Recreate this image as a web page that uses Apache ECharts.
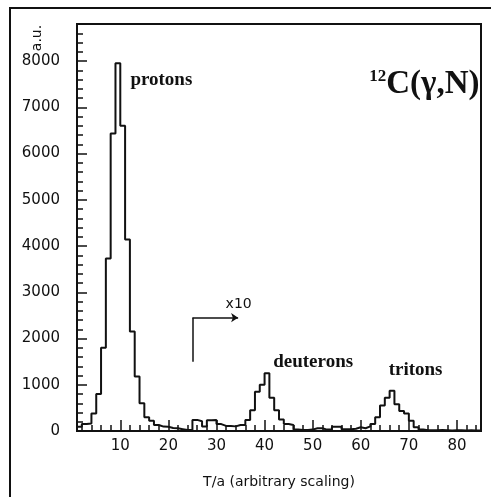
<!DOCTYPE html>
<html>
<head>
<meta charset="utf-8">
<script src="https://cdn.jsdelivr.net/npm/echarts@6/dist/echarts.min.js"></script>
<style>
  html, body { margin: 0; padding: 0; background: #fff; }
  #chart { width: 491px; height: 497px; }
</style>
</head>
<body>
<div id="chart"></div>
<script>
// histogram: bins of width 1 starting at T/a = 1 (values above 25 are shown x10)
var binStart = 1;
var counts = [
  90, 150, 160, 380, 800, 1800, 3730, 6430, 7950, 6600,      // 1-10
  4140, 2150, 1180, 600, 300, 220, 130, 95, 90, 65,          // 11-20
  60, 40, 20, 20, 240, 210, 100, 230, 240, 150,              // 21-30
  110, 110, 100, 130, 130, 240, 450, 850, 1000, 1250,        // 31-40
  720, 450, 250, 150, 130, 30, 20, 20, 30, 60,               // 41-50
  60, 30, 30, 90, 90, 40, 40, 50, 80, 60,                    // 51-60
  100, 150, 300, 550, 720, 870, 580, 430, 380, 220,          // 61-70
  80, 30, 15, 15, 15, 20, 15, 10, 15, 15,                    // 71-80
  10, 15, 10, 10                                             // 81-84
];
var xMajorTicks = [10, 20, 30, 40, 50, 60, 70, 80];
var xMinorTicks = [2, 4, 6, 8, 12, 14, 16, 18, 22, 24, 26, 28, 32, 34, 36, 38,
  42, 44, 46, 48, 52, 54, 56, 58, 62, 64, 66, 68, 72, 74, 76, 78, 82, 84];
var yLabels = [0, 1000, 2000, 3000, 4000, 5000, 6000, 7000, 8000];

// "x10" arrow
var arrowPath = [[25, 1500], [25, 2450], [34.5, 2450]];

// text annotations, in data coordinates
var notes = [
  { text: 'protons', at: [12.1, 7580], align: 'left', size: 19 },
  { text: 'deuterons', at: [41.8, 1500], align: 'left', size: 19 },
  { text: 'tritons', at: [65.8, 1310], align: 'left', size: 19 }
];

var ink = '#111';
var histData = counts.map(function (v, i) { return [binStart + i, v]; });
histData.push([binStart + counts.length, counts[counts.length - 1]]);

var chart = echarts.init(document.getElementById('chart'));

chart.setOption({
  animation: false,
  backgroundColor: '#fff',
  grid: {
    left: 77, top: 24, right: 10, bottom: 66,
    show: true, borderColor: ink, borderWidth: 2
  },
  xAxis: [{
    type: 'value', min: 1, max: 85,
    name: 'T/a (arbitrary scaling)',
    nameLocation: 'middle', nameGap: 44,
    nameTextStyle: { fontFamily: 'DejaVu Sans', fontSize: 14, color: ink },
    axisLine: { lineStyle: { color: ink, width: 2 } },
    axisTick: { inside: true, length: 11, customValues: xMajorTicks, lineStyle: { color: ink, width: 1.5 } },
    axisLabel: { customValues: xMajorTicks, margin: 8, fontFamily: 'DejaVu Sans', fontSize: 15, color: ink },
    splitLine: { show: false }
  }, {
    type: 'value', min: 1, max: 85, position: 'bottom',
    axisLine: { show: false },
    axisTick: { inside: true, length: 6, customValues: xMinorTicks, lineStyle: { color: ink, width: 1.5 } },
    axisLabel: { show: false },
    splitLine: { show: false }
  }],
  yAxis: {
    type: 'value', min: 0, max: 8800, interval: 1000,
    axisLine: { show: true, lineStyle: { color: ink, width: 2 } },
    axisTick: { inside: true, length: 10, lineStyle: { color: ink, width: 1.5 } },
    minorTick: { show: true, splitNumber: 5, length: 6, lineStyle: { color: ink, width: 1.5 } },
    axisLabel: {
      customValues: yLabels,
      formatter: function (v) { return String(v); },
      margin: 17, fontFamily: 'DejaVu Sans', fontSize: 15, color: ink
    },
    splitLine: { show: false },
    minorSplitLine: { show: false }
  },
  series: [{
    type: 'line',
    step: 'end',
    data: histData,
    showSymbol: false,
    symbol: 'none',
    lineStyle: { color: ink, width: 2 },
    silent: true,
    markLine: {
      silent: true,
      label: { show: false },
      lineStyle: { color: ink, width: 1.5, type: 'solid' },
      data: [
        [{ coord: arrowPath[0], symbol: 'none' }, { coord: arrowPath[1], symbol: 'none' }],
        [{ coord: arrowPath[1], symbol: 'none' }, { coord: arrowPath[2], symbol: 'arrow', symbolSize: 7 }]
      ]
    }
  }]
});

function px(p) { return chart.convertToPixel({ seriesIndex: 0 }, p); }

var graphics = notes.map(function (n) {
  var p = px(n.at);
  return {
    type: 'text', x: p[0], y: p[1],
    style: {
      text: n.text, fill: ink, align: n.align, verticalAlign: 'middle',
      font: 'bold ' + n.size + 'px "Liberation Serif"'
    }
  };
});

var xp = px([31.9, 2730]);
graphics.push({
  type: 'text', x: xp[0], y: xp[1],
  style: { text: 'x10', fill: ink, align: 'left', verticalAlign: 'middle', font: '14px "DejaVu Sans"' }
});

var rp = px([84.7, 7500]);
graphics.push({
  type: 'text', x: rp[0], y: rp[1],
  style: {
    text: '{s|12}{m|C(γ,N)}', fill: ink, align: 'right', verticalAlign: 'middle',
    rich: {
      s: { fontFamily: 'Liberation Serif', fontWeight: 'bold', fontSize: 17, verticalAlign: 'top', fill: ink },
      m: { fontFamily: 'Liberation Serif', fontWeight: 'bold', fontSize: 33, fill: ink }
    }
  }
});

// "a.u." label rotated next to the y axis
graphics.push({
  type: 'text', x: 37, y: 38, rotation: Math.PI / 2,
  style: { text: 'a.u.', fill: ink, align: 'center', verticalAlign: 'middle', font: '14px "DejaVu Sans"' }
});

// outer frame (left and top edges visible)
graphics.push({
  type: 'polyline',
  shape: { points: [[10, 497], [10, 8], [491, 8]] },
  style: { stroke: ink, lineWidth: 2, fill: null }
});

chart.setOption({ graphic: graphics });
</script>
</body>
</html>
